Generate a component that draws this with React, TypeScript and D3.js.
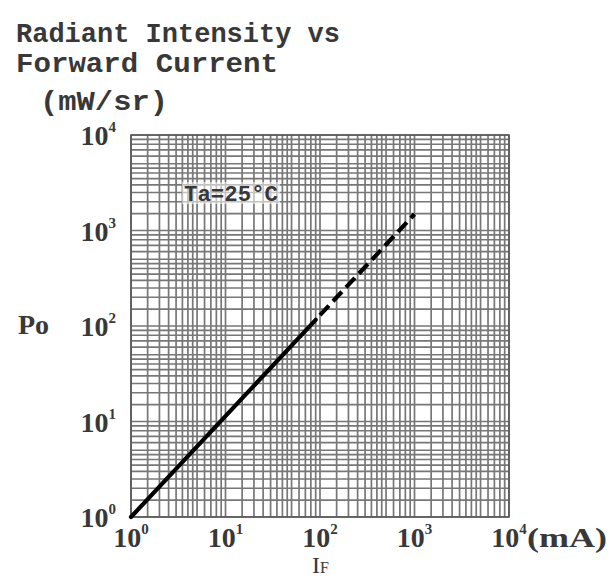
import React from "react";
import * as d3 from "d3";

const xDecades = [1, 10, 100, 1000, 10000];
const yDecades = [1, 10, 100, 1000, 10000];
const xTickExp = ["0", "1", "2", "3", "4"];
const yTickExp = ["0", "1", "2", "3", "4"];
const gridMultiples = [1, 1.5, 2, 2.5, 3, 3.5, 4, 4.5, 5, 6, 7, 8, 9];
const solidSegment = [
  { i: 1, p: 1 },
  { i: 90, p: 116 },
];
const dashedSegment = [
  { i: 100, p: 130 },
  { i: 1000, p: 1480 },
];
const titleLines = ["Radiant Intensity vs", "Forward Current"];
const unitLabel = "(mW/sr)";
const tempLabel = "Ta=25°C";

const W = 611;
const H = 580;
const L = 131, R = 509, T = 135, B = 517;

export default function App() {
  const x = d3.scaleLog().domain([1, 1e4]).range([L, R]);
  const y = d3.scaleLog().domain([1, 1e4]).range([B, T]);

  const gridVals: number[] = [];
  for (let k = 0; k < xDecades.length - 1; k++) {
    for (const m of gridMultiples) gridVals.push(m * xDecades[k]);
  }
  gridVals.push(xDecades[xDecades.length - 1]);

  const line = d3
    .line<{ i: number; p: number }>()
    .x((d) => x(d.i))
    .y((d) => y(d.p));

  const mono = "'Liberation Mono', 'DejaVu Sans Mono', monospace";
  const serif = "'Liberation Serif', 'DejaVu Serif', serif";
  const textFill = "#383838";
  const gridStroke = "#4a4a4a";

  return (
    <svg
      width={W}
      height={H}
      viewBox={`0 0 ${W} ${H}`}
      style={{ position: "absolute", left: 0, top: 0, background: "#fff" }}
    >
      <rect x={0} y={0} width={W} height={H} fill="#fff" />
      {/* title */}
      <text x={16} y={42} fontFamily={mono} fontWeight="bold" fontSize={27} fill={textFill} textLength={324} lengthAdjust="spacingAndGlyphs">
        {titleLines[0]}
      </text>
      <text x={16} y={72} fontFamily={mono} fontWeight="bold" fontSize={27} fill={textFill} textLength={262} lengthAdjust="spacingAndGlyphs">
        {titleLines[1]}
      </text>
      <text x={40} y={110} fontFamily={mono} fontWeight="bold" fontSize={28} fill={textFill} textLength={128} lengthAdjust="spacingAndGlyphs">
        {unitLabel}
      </text>

      {/* grid */}
      <g stroke={gridStroke} strokeWidth={1.7} opacity={0.75}>
        {gridVals.map((v, idx) => (
          <line key={"v" + idx} x1={x(v)} x2={x(v)} y1={T} y2={B} />
        ))}
        {gridVals.map((v, idx) => (
          <line key={"h" + idx} x1={L} x2={R} y1={y(v)} y2={y(v)} />
        ))}
      </g>
      <rect x={L} y={T} width={R - L} height={B - T} fill="none" stroke="#555" strokeWidth={1.5} />

      {/* Ta label */}
      <rect x={182} y={182} width={98} height={22} fill="#fff" opacity={0.55} />
      <text x={184} y={201} fontFamily={mono} fontWeight="bold" fontSize={22} fill={textFill} textLength={94} lengthAdjust="spacingAndGlyphs">
        {tempLabel}
      </text>

      {/* curve */}
      <path d={line(solidSegment) || ""} fill="none" stroke="#000" strokeWidth={4.2} strokeLinecap="round" />
      <path d={line(dashedSegment) || ""} fill="none" stroke="#000" strokeWidth={4.2} strokeDasharray="13 6" />

      {/* y tick labels */}
      {yDecades.map((v, idx) => (
        <text key={"yt" + idx} x={116} y={y(v) + 10} textAnchor="end" fontFamily={serif} fontWeight="bold" fontSize={28} fill={textFill}>
          10
          <tspan fontSize={15} dy={-13}>{yTickExp[idx]}</tspan>
        </text>
      ))}
      {/* x tick labels */}
      {xDecades.map((v, idx) => (
        <text key={"xt" + idx} x={x(v)} y={547} textAnchor="middle" fontFamily={serif} fontWeight="bold" fontSize={28} fill={textFill}>
          10
          <tspan fontSize={15} dy={-13}>{xTickExp[idx]}</tspan>
        </text>
      ))}
      <text x={527} y={547} fontFamily={serif} fontWeight="bold" fontSize={28} fill={textFill} textLength={80} lengthAdjust="spacingAndGlyphs">
        (mA)
      </text>

      {/* axis titles */}
      <text x={18} y={334} fontFamily={serif} fontWeight="bold" fontSize={28} fill={textFill}>
        Po
      </text>
      <text x={312} y={573} fontFamily={serif} fontSize={24} fill={textFill}>
        I<tspan fontSize={16}>F</tspan>
      </text>
    </svg>
  );
}
